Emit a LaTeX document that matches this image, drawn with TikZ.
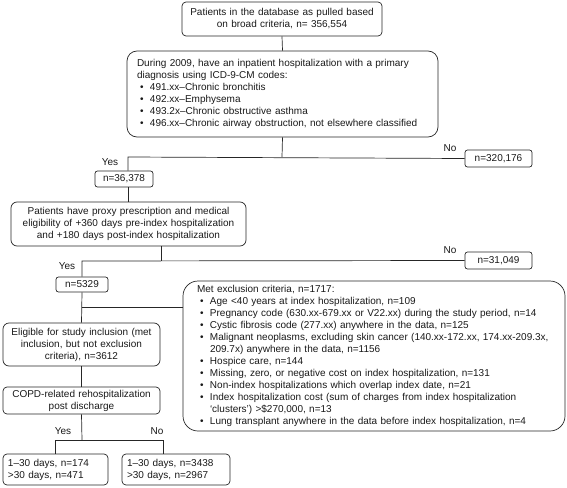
\documentclass[tikz,border=0pt]{standalone}
\usepackage{fontspec}
\setmainfont{Liberation Sans}
\newcommand{\bitem}{\hspace*{3pt}\makebox[10pt][l]{\textbullet}}
\newcommand{\bcont}{\hspace*{13pt}}
\begin{document}
\begin{tikzpicture}[x=1pt,y=1pt,
  line/.style={draw=black!85, line width=0.7pt},
  box/.style={line, font=\fontsize{10}{12}\selectfont, inner ysep=0pt, text=black!90},
  small/.style={box, inner sep=0pt, rounded corners=2.5pt},
  lbl/.style={font=\fontsize{10}{12}\selectfont, inner sep=0pt, text=black!90}]
\useasboundingbox (0,0) rectangle (567,-487);

\node[box, rounded corners=4pt, text width=190pt, inner xsep=5pt, minimum height=34pt, align=center]
  (b1) at (282,-19) {Patients in the database as pulled based\\on broad criteria, n= 356,554};

\node[box, rounded corners=10pt, text width=291pt, inner xsep=10pt, minimum height=86pt, align=left]
  (b2) at (282.5,-94) {During 2009, have an inpatient hospitalization with a primary\\
  diagnosis using ICD-9-CM codes:\\
  \bitem 491.xx–Chronic bronchitis\\
  \bitem 492.xx–Emphysema\\
  \bitem 493.2x–Chronic obstructive asthma\\
  \bitem 496.xx–Chronic airway obstruction, not elsewhere classified};

\node[small, minimum width=67pt, minimum height=17pt] (no1) at (498.5,-158.5) {n=320,176};
\node[small, minimum width=58pt, minimum height=16pt] (n1) at (124,-179) {n=36,378};

\node[box, rounded corners=6pt, text width=225pt, inner xsep=5pt, minimum height=44pt, align=center]
  (b3) at (128.5,-224) {Patients have proxy prescription and medical\\eligibility of +360 days pre-index hospitalization\\and +180 days post-index hospitalization};

\node[small, minimum width=67pt, minimum height=17pt] (no2) at (498.5,-260.5) {n=31,049};
\node[small, minimum width=52pt, minimum height=15pt] (n2) at (82,-284.5) {n=5329};

\node[box, rounded corners=15pt, text width=354pt, inner xsep=14pt, minimum height=150pt, align=left]
  (excl) at (374,-356) {Met exclusion criteria, n=1717:\\
  \bitem Age <40 years at index hospitalization, n=109\\
  \bitem Pregnancy code (630.xx-679.xx or V22.xx) during the study period, n=14\\
  \bitem Cystic fibrosis code (277.xx) anywhere in the data, n=125\\
  \bitem Malignant neoplasms, excluding skin cancer (140.xx-172.xx, 174.xx-209.3x,\\
  \bcont 209.7x) anywhere in the data, n=1156\\
  \bitem Hospice care, n=144\\
  \bitem Missing, zero, or negative cost on index hospitalization, n=131\\
  \bitem Non-index hospitalizations which overlap index date, n=21\\
  \bitem Index hospitalization cost (sum of charges from index hospitalization\\
  \bcont ‘clusters’) >\$270,000, n=13\\
  \bitem Lung transplant anywhere in the data before index hospitalization, n=4};

\node[box, rounded corners=6pt, text width=147pt, inner xsep=5pt, minimum height=43pt, align=center]
  (b4) at (81.5,-344.5) {Eligible for study inclusion (met\\inclusion, but not exclusion\\criteria), n=3612};

\node[box, rounded corners=4pt, text width=147pt, inner xsep=5pt, minimum height=27pt, align=center]
  (b5) at (81.5,-400.5) {COPD-related rehospitalization\\post discharge};

\node[box, rounded corners=4pt, text width=95pt, inner xsep=5pt, minimum height=31pt, align=left]
  (b6) at (55.5,-469.5) {1–30 days, n=174\\>30 days, n=471};
\node[box, rounded corners=4pt, text width=98pt, inner xsep=5pt, minimum height=31pt, align=left]
  (b7) at (176,-469.5) {1–30 days, n=3438\\>30 days, n=2967};

\node[lbl] (y1) at (110,-162) {Yes};
\node[lbl] (nl1) at (450,-148) {No};
\node[lbl] (nl2) at (450,-250) {No};
\node[lbl] (y2) at (67,-266) {Yes};
\node[lbl] (y3) at (63,-431) {Yes};
\node[lbl] (nl3) at (157,-431) {No};

\coordinate (j1) at (282,-157);
\coordinate (j1L) at (128,-157);
\coordinate (j2) at (161,-261);
\coordinate (j2L) at (82,-261);
\coordinate (j3) at (82,-307);
\coordinate (j4) at (82,-440);
\coordinate (j4L) at (55,-440);
\coordinate (j4R) at (163,-440);

\draw[line] (b1.south) -- (b2.north);
\draw[line] (b2.south) -- (j1);
\draw[line] (no1.west) -- (j1L) -- (j1L |- n1.north);
\draw[line] (j1L |- n1.south) -- (j1L |- b3.north);
\draw[line] (j2 |- b3.south) -- (j2);
\draw[line] (no2.west) -- (j2L) -- (n2.north);
\draw[line] (n2.south) -- (b4.north);
\draw[line] (j3) -- (j3 -| excl.west);
\draw[line] (b4.south) -- (b5.north);
\draw[line] (b5.south) -- (j4);
\draw[line] (j4L |- b6.north) -- (j4L) -- (j4R) -- (j4R |- b7.north);
\end{tikzpicture}
\end{document}
